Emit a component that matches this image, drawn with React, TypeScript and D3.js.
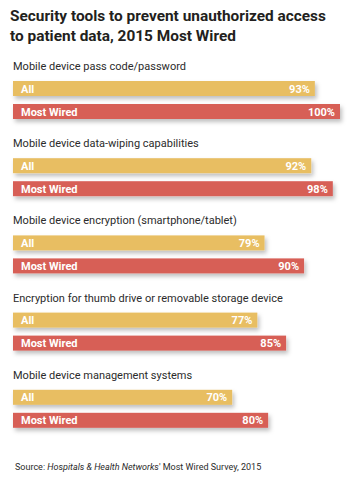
import React from 'react';
import * as d3 from 'd3';

const categories = [
  'Mobile device pass code/password',
  'Mobile device data-wiping capabilities',
  'Mobile device encryption (smartphone/tablet)',
  'Encryption for thumb drive or removable storage device',
  'Mobile device management systems',
];
const allValues = [93, 92, 79, 77, 70];
const mostWiredValues = [100, 98, 90, 85, 80];
const seriesNames = ['All', 'Most Wired'];
const titleLines = ['Security tools to prevent unauthorized access', 'to patient data, 2015 Most Wired'];

const colors = { all: '#E8BE62', wired: '#D75F57', text: '#231f20', label: '#2b2b2b' };
const font = 'Roboto, "Open Sans", sans-serif';

export default function App() {
  const width = 350, height = 487;
  // bars don't start at zero in the original, the baseline is cut
  const x = d3.scaleLinear().domain([9, 100]).range([13, 340]);
  const y = d3.scaleBand<number>().domain(d3.range(categories.length)).range([70, 456]);
  const barH = 15;

  return (
    <svg width={width} height={height} style={{ position: 'absolute', left: 0, top: 0, background: '#fff' }} fontFamily={font}>
      <defs>
        <filter id="shadow" x="-5%" y="-50%" width="115%" height="250%">
          <feDropShadow dx="2" dy="3" stdDeviation="2.2" floodColor="#000" floodOpacity="0.25" />
        </filter>
      </defs>
      {titleLines.map((t, i) => (
        <text key={t} x={10} y={21 + i * 20} fontSize={15.4} fontWeight={700} fill={colors.text}>{t}</text>
      ))}
      {categories.map((c, i) => {
        const g = y(i)!;
        const rows = [
          { name: seriesNames[0], v: allValues[i], top: g + 11, fill: colors.all },
          { name: seriesNames[1], v: mostWiredValues[i], top: g + 34, fill: colors.wired },
        ];
        return (
          <g key={c}>
            <text x={13} y={g} fontSize={11} fill={colors.label}>{c}</text>
            {rows.map(r => (
              <g key={r.name}>
                <rect x={x(9)} y={r.top} width={x(r.v) - x(9)} height={barH} fill={r.fill} filter="url(#shadow)" />
                <text x={21} y={r.top + 11.5} fontSize={11} fontWeight={700} fill="#fff">{r.name}</text>
                <text x={x(r.v) - 5} y={r.top + 11.5} fontSize={11} fontWeight={700} fill="#fff" textAnchor="end">{r.v}%</text>
              </g>
            ))}
          </g>
        );
      })}
      <text x={15} y={470} fontSize={9} fill={colors.label}>
        Source: <tspan fontStyle="italic">Hospitals &amp; Health Networks</tspan>' Most Wired Survey, 2015
      </text>
    </svg>
  );
}
